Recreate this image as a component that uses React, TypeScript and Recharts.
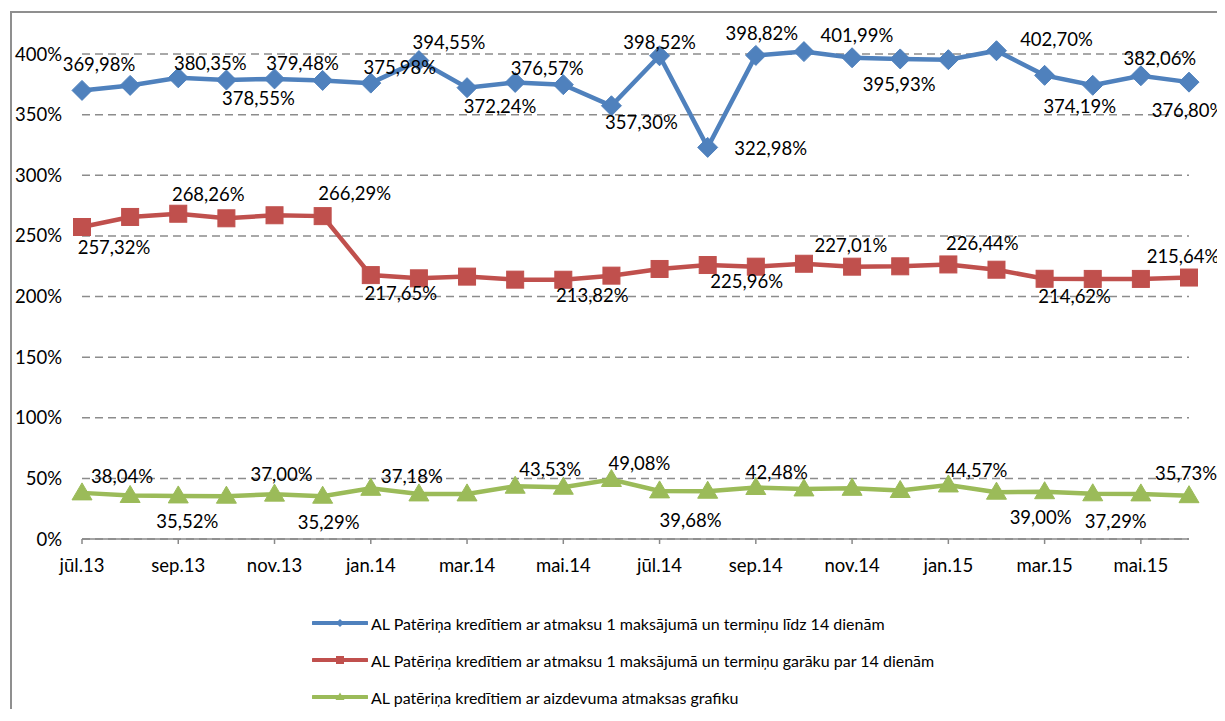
import React from 'react';
import { LineChart, Line, XAxis, YAxis, CartesianGrid } from 'recharts';

// months, jūl.13 .. jūn.15
const months = [
  'jūl.13', 'aug.13', 'sep.13', 'okt.13', 'nov.13', 'dec.13',
  'jan.14', 'feb.14', 'mar.14', 'apr.14', 'mai.14', 'jūn.14',
  'jūl.14', 'aug.14', 'sep.14', 'okt.14', 'nov.14', 'dec.14',
  'jan.15', 'feb.15', 'mar.15', 'apr.15', 'mai.15', 'jūn.15',
];

const upTo14Days = [
  369.98, 374.1, 380.35, 378.55, 379.48, 378.2,
  375.98, 394.55, 372.24, 376.57, 374.7, 357.3,
  398.52, 322.98, 398.82, 401.99, 396.9, 395.93,
  395.3, 402.7, 382.4, 374.19, 382.06, 376.8,
];

const over14Days = [
  257.32, 265.6, 268.26, 264.5, 267.0, 266.29,
  217.65, 215.0, 216.4, 213.9, 213.82, 217.2,
  222.7, 225.96, 224.6, 227.01, 224.6, 224.9,
  226.44, 222.1, 214.62, 214.5, 214.5, 215.64,
];

const withSchedule = [
  38.04, 35.9, 35.52, 35.3, 37.0, 35.29,
  41.8, 37.18, 37.2, 43.53, 42.7, 49.08,
  39.68, 39.4, 42.48, 41.3, 41.8, 40.0,
  44.57, 38.6, 39.0, 37.29, 37.2, 35.73,
];

const yTicks = [0, 50, 100, 150, 200, 250, 300, 350, 400];

const seriesNames = [
  'AL Patēriņa kredītiem ar atmaksu 1 maksājumā un termiņu līdz 14 dienām',
  'AL Patēriņa kredītiem ar atmaksu 1 maksājumā un termiņu garāku par 14 dienām',
  'AL patēriņa kredītiem ar aizdevuma atmaksas grafiku',
];

const BLUE = '#4F81BD';
const RED = '#C0504D';
const GREEN = '#9BBB59';
const GRID = '#8c8c8c';
const FONT = 18.5;

// which points carry a label, and where the label sits relative to the point (dx, dy)
const blueLabelPos: Record<number, [number, number]> = {
  0: [17, -26], 2: [32, -14], 3: [32, 19], 4: [28, -15], 6: [29, -16], 7: [30, -18],
  8: [33, 19], 9: [32, -14], 11: [30, 17], 12: [0, -13], 13: [63, 1], 14: [6, -22],
  15: [53, -16], 17: [-1, 26], 19: [60, -11], 21: [-13, 21], 22: [19, -17], 23: [-1, 28],
};
const redLabelPos: Record<number, [number, number]> = {
  0: [32, 21], 2: [30, -19], 5: [32, -23], 6: [30, 18], 10: [29, 16],
  13: [39, 17], 15: [47, -18], 18: [34, -21], 20: [30, 18], 23: [-6, -21],
};
const greenLabelPos: Record<number, [number, number]> = {
  0: [40, -16], 2: [9, 26], 4: [7, -20], 5: [6, 26], 7: [-7, -17], 9: [35, -17],
  11: [28, -16], 12: [31, 30], 14: [21, -15], 18: [28, -14], 20: [-4, 26], 21: [23, 28], 23: [-3, -22],
};

const data = months.map((month, i) => ({
  month,
  upTo14: upTo14Days[i],
  over14: over14Days[i],
  schedule: withSchedule[i],
}));

const fmt = (v: number) => v.toFixed(2).replace('.', ',') + '%';

const makeLabel = (pos: Record<number, [number, number]>) => (props: any) => {
  const { index, value } = props;
  const p = pos[index];
  if (!p || value == null) return null;
  const vb = props.viewBox || {};
  const x = props.x ?? vb.x;
  const y = props.y ?? vb.y;
  return (
    <text
      key={`lbl-${index}`}
      x={x + p[0]}
      y={y + p[1]}
      dy="0.35em"
      textAnchor="middle"
      fontSize={FONT}
      fill="#000"
    >
      {fmt(Number(value))}
    </text>
  );
};

const diamondDot = (props: any) => {
  const { cx, cy, index } = props;
  if (cx == null || cy == null) return <g key={`d-${index}`} />;
  return (
    <path
      key={`d-${index}`}
      d={`M${cx},${cy - 10}L${cx + 10},${cy}L${cx},${cy + 10}L${cx - 10},${cy}Z`}
      fill={BLUE}
      stroke={BLUE}
    />
  );
};

const squareDot = (props: any) => {
  const { cx, cy, index } = props;
  if (cx == null || cy == null) return <g key={`s-${index}`} />;
  return <rect key={`s-${index}`} x={cx - 8.5} y={cy - 8.5} width={17} height={17} fill={RED} stroke={RED} />;
};

const triangleDot = (props: any) => {
  const { cx, cy, index } = props;
  if (cx == null || cy == null) return <g key={`t-${index}`} />;
  return (
    <path
      key={`t-${index}`}
      d={`M${cx},${cy - 10}L${cx + 10},${cy + 7}L${cx - 10},${cy + 7}Z`}
      fill={GREEN}
      stroke={GREEN}
    />
  );
};

const LegendRow = ({ color, shape, label, top }: { color: string; shape: string; label: string; top: number }) => (
  <div style={{ position: 'absolute', left: 300, top, height: 20, display: 'flex', alignItems: 'center' }}>
    <svg width={56} height={14} style={{ marginRight: 3 }}>
      <line x1={1} y1={7} x2={55} y2={7} stroke={color} strokeWidth={4} strokeLinecap="round" />
      {shape === 'diamond' && <path d="M28,3L32,7L28,11L24,7Z" fill={color} />}
      {shape === 'square' && <rect x={24} y={3} width={8} height={8} fill={color} />}
      {shape === 'triangle' && <path d="M28,2.5L32.5,10L23.5,10Z" fill={color} />}
    </svg>
    <span style={{ fontSize: 16, color: '#000', whiteSpace: 'nowrap' }}>{label}</span>
  </div>
);

export default function App() {
  return (
    <div
      style={{
        position: 'relative',
        marginLeft: 2,
        marginTop: 3,
        width: 1212,
        height: 696,
        borderLeft: '2px solid #8f8f8f',
        borderTop: '2px solid #8f8f8f',
        fontFamily: 'Lato, "Noto Sans", sans-serif',
      }}
    >
      <style>{'body{overflow:hidden} .recharts-wrapper [clip-path]{clip-path:none !important}'}</style>
      <LineChart width={1212} height={600} data={data} margin={{ top: 41, right: 35, bottom: 0, left: 0 }}>
        <CartesianGrid vertical={false} stroke={GRID} strokeWidth={1.5} strokeDasharray="8 5" />
        <XAxis
          dataKey="month"
          interval={1}
          height={74}
          tickSize={5}
          tickMargin={15}
          padding={{ left: 0, right: 0 }}
          axisLine={{ stroke: '#898989', strokeWidth: 1.5 }}
          tickLine={{ stroke: '#898989', strokeWidth: 1.5 }}
          tick={{ fill: '#000', fontSize: FONT }}
        />
        <YAxis
          domain={[0, 400]}
          ticks={yTicks}
          allowDataOverflow
          width={70}
          axisLine={false}
          tickLine={false}
          tickSize={0}
          tickMargin={20}
          tickFormatter={(v: number) => `${v}%`}
          tick={{ fill: '#000', fontSize: FONT }}
        />
        <Line
          dataKey="upTo14"
          name={seriesNames[0]}
          stroke={BLUE}
          strokeWidth={4.5}
          dot={diamondDot}
          activeDot={false}
          label={makeLabel(blueLabelPos)}
          isAnimationActive={false}
        />
        <Line
          dataKey="over14"
          name={seriesNames[1]}
          stroke={RED}
          strokeWidth={4.5}
          dot={squareDot}
          activeDot={false}
          label={makeLabel(redLabelPos)}
          isAnimationActive={false}
        />
        <Line
          dataKey="schedule"
          name={seriesNames[2]}
          stroke={GREEN}
          strokeWidth={4.5}
          dot={triangleDot}
          activeDot={false}
          label={makeLabel(greenLabelPos)}
          isAnimationActive={false}
        />
      </LineChart>
      <LegendRow color={BLUE} shape="diamond" label={seriesNames[0]} top={600} />
      <LegendRow color={RED} shape="square" label={seriesNames[1]} top={637} />
      <LegendRow color={GREEN} shape="triangle" label={seriesNames[2]} top={674} />
    </div>
  );
}
